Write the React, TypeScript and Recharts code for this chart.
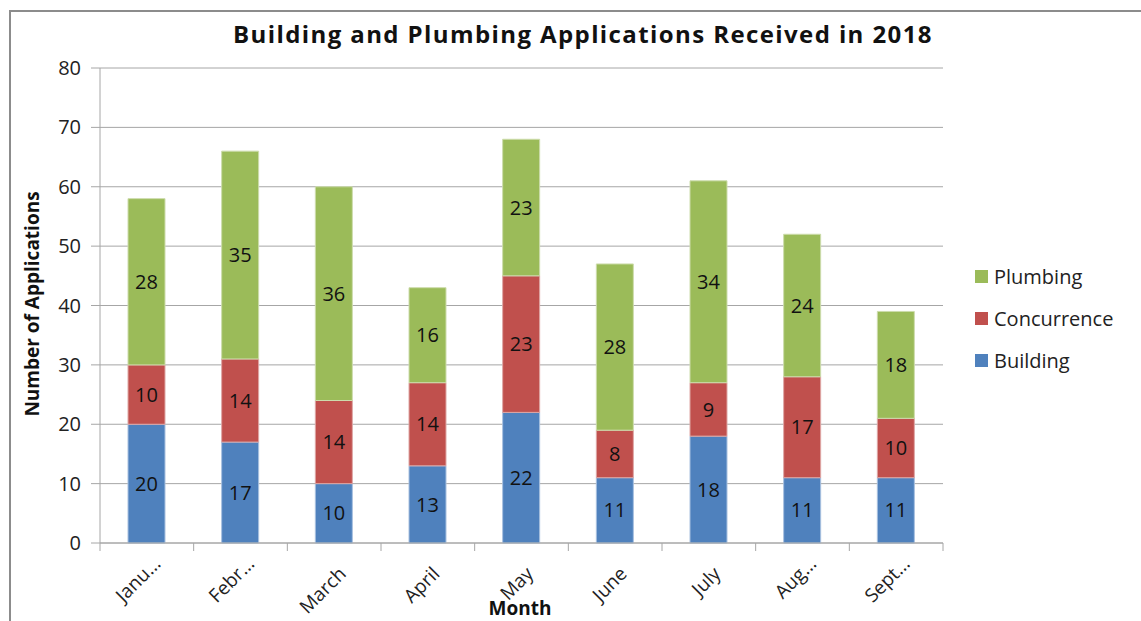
import { BarChart, Bar, XAxis, YAxis, CartesianGrid, LabelList } from 'recharts';

const months = ['Janu...', 'Febr...', 'March', 'April', 'May', 'June', 'July', 'Aug...', 'Sept...'];
const building = [20, 17, 10, 13, 22, 11, 18, 11, 11];
const concurrence = [10, 14, 14, 14, 23, 8, 9, 17, 10];
const plumbing = [28, 35, 36, 16, 23, 28, 34, 24, 18];
const yTicks = [0, 10, 20, 30, 40, 50, 60, 70, 80];

const FONT = '"Open Sans", "Noto Sans", sans-serif';
const GRID = '#a6a6a6';

const data = months.map((m, i) => ({
  month: m,
  Building: building[i],
  Concurrence: concurrence[i],
  Plumbing: plumbing[i],
}));

const legendItems = [
  { name: 'Plumbing', color: '#9bbb59' },
  { name: 'Concurrence', color: '#c0504d' },
  { name: 'Building', color: '#4f81bd' },
];

const MonthTick = ({ x, y, payload, index }: any) => {
  const band = 843 / months.length;
  const cut = String(payload.value).endsWith('...');
  const tx = x + (cut ? 15 : 13);
  const ty = y + (cut ? 14 : 24);
  return (
    <g>
      <line x1={x - band / 2} y1={543} x2={x - band / 2} y2={551} stroke={GRID} />
      {index === months.length - 1 && (
        <line x1={x + band / 2} y1={543} x2={x + band / 2} y2={551} stroke={GRID} />
      )}
      <text
        x={tx}
        y={ty}
        textAnchor="end"
        transform={`rotate(-45 ${tx} ${ty})`}
        fontSize={19}
        fill="#222"
        fontFamily={FONT}
      >
        {payload.value}
      </text>
    </g>
  );
};

export default function App() {
  return (
    <div style={{ position: 'absolute', left: 0, top: 0, width: 1141, height: 621, background: '#fff', overflow: 'hidden' }}>
      <div
        style={{
          position: 'absolute',
          left: 9,
          top: 10,
          width: 1140,
          height: 620,
          borderLeft: '2px solid #8c8c8c',
          borderTop: '2px solid #8c8c8c',
        }}
      />
      <div
        style={{
          position: 'absolute',
          left: 0,
          width: 1166,
          top: 17,
          textAlign: 'center',
          fontFamily: FONT,
          fontWeight: 700,
          fontSize: 24,
          letterSpacing: 1.4,
          color: '#111',
        }}
      >
        Building and Plumbing Applications Received in 2018
      </div>
      <div
        style={{
          position: 'absolute',
          left: 32,
          top: 304,
          transform: 'translate(-50%, -50%) rotate(-90deg)',
          whiteSpace: 'nowrap',
          fontFamily: FONT,
          fontWeight: 700,
          fontSize: 19,
          color: '#111',
        }}
      >
        Number of Applications
      </div>
      <div
        style={{
          position: 'absolute',
          left: 520,
          top: 595,
          transform: 'translateX(-50%)',
          fontFamily: FONT,
          fontWeight: 700,
          fontSize: 19,
          color: '#111',
        }}
      >
        Month
      </div>
      <div
        style={{
          position: 'absolute',
          left: 975,
          top: 255,
          fontFamily: FONT,
          fontSize: 20,
          color: '#222',
        }}
      >
        {legendItems.map((it) => (
          <div key={it.name} style={{ display: 'flex', alignItems: 'center', height: 42 }}>
            <span style={{ width: 13, height: 13, background: it.color, marginRight: 6 }} />
            {it.name}
          </div>
        ))}
      </div>
      <BarChart
        width={1141}
        height={621}
        data={data}
        margin={{ top: 68, right: 198, bottom: 0, left: 0 }}
        style={{ position: 'absolute', left: 0, top: 0 }}
      >
        <CartesianGrid vertical={false} stroke={GRID} />
        <XAxis
          dataKey="month"
          height={78}
          interval={0}
          stroke={GRID}
          tickLine={false}
          tick={<MonthTick />}
        />
        <YAxis
          width={100}
          domain={[0, 80]}
          ticks={yTicks}
          stroke={GRID}
          tickSize={9}
          tickMargin={10}
          tick={{ fontSize: 20, fill: '#222', fontFamily: FONT }}
        />
        <Bar dataKey="Building" stackId="a" fill="#4f81bd" stroke="#a8c0df" strokeWidth={1} barSize={37} isAnimationActive={false}>
          <LabelList dataKey="Building" position="center" fill="#111" fontSize={20} fontFamily={FONT} />
        </Bar>
        <Bar dataKey="Concurrence" stackId="a" fill="#c0504d" stroke="#dea7a5" strokeWidth={1} barSize={37} isAnimationActive={false}>
          <LabelList dataKey="Concurrence" position="center" fill="#111" fontSize={20} fontFamily={FONT} />
        </Bar>
        <Bar dataKey="Plumbing" stackId="a" fill="#9bbb59" stroke="#cddcac" strokeWidth={1} barSize={37} isAnimationActive={false}>
          <LabelList dataKey="Plumbing" position="center" fill="#111" fontSize={20} fontFamily={FONT} />
        </Bar>
      </BarChart>
    </div>
  );
}
